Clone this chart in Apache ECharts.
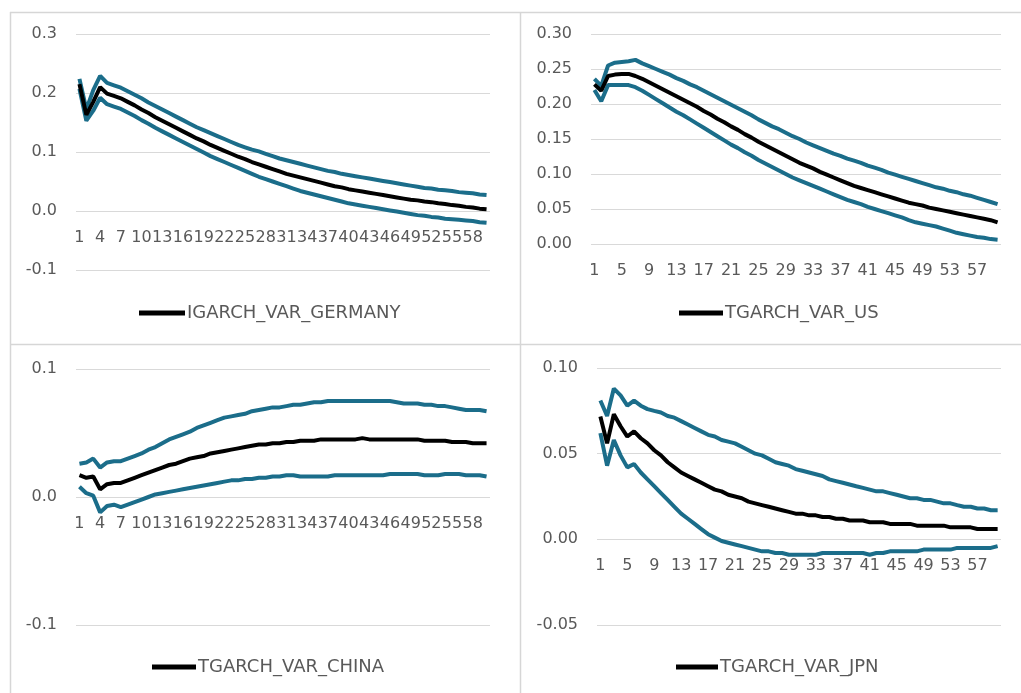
<!DOCTYPE html>
<html>
<head>
<meta charset="utf-8">
<script src="https://cdn.jsdelivr.net/npm/echarts@6/dist/echarts.min.js"></script>
<style>
html,body{margin:0;padding:0;background:#fff;}
#chart{width:1021px;height:693px;}
</style>
</head>
<body>
<div id="chart"></div>
<script>
const periods = ['1','2','3','4','5','6','7','8','9','10','11','12','13','14','15','16','17','18','19','20',
'21','22','23','24','25','26','27','28','29','30','31','32','33','34','35','36','37','38','39','40',
'41','42','43','44','45','46','47','48','49','50','51','52','53','54','55','56','57','58','59','60'];

const seriesNames = ['IGARCH_VAR_GERMANY', 'TGARCH_VAR_US', 'TGARCH_VAR_CHINA', 'TGARCH_VAR_JPN'];

const germanyMid = [0.215,0.163,0.185,0.210,0.199,0.195,0.191,0.185,0.179,0.172,0.166,0.159,0.153,0.147,0.141,0.135,0.129,0.123,0.118,0.112,
0.107,0.102,0.097,0.092,0.088,0.083,0.079,0.075,0.071,0.067,0.063,0.060,0.057,0.054,0.051,0.048,0.045,0.042,0.040,0.037,
0.035,0.033,0.031,0.029,0.027,0.025,0.023,0.021,0.019,0.018,0.016,0.015,0.013,0.012,0.010,0.009,0.007,0.006,0.004,0.003];
const germanyUpper = [0.224,0.172,0.205,0.229,0.217,0.213,0.209,0.203,0.197,0.191,0.184,0.178,0.172,0.166,0.160,0.154,0.148,0.142,0.137,0.132,
0.127,0.122,0.117,0.112,0.108,0.104,0.101,0.097,0.093,0.089,0.086,0.083,0.080,0.077,0.074,0.071,0.068,0.066,0.063,0.061,
0.059,0.057,0.055,0.053,0.051,0.049,0.047,0.045,0.043,0.041,0.039,0.038,0.036,0.035,0.034,0.032,0.031,0.030,0.028,0.027];
const germanyLower = [0.207,0.153,0.170,0.192,0.181,0.177,0.173,0.167,0.161,0.154,0.148,0.141,0.135,0.129,0.123,0.117,0.111,0.105,0.099,0.093,
0.088,0.083,0.078,0.073,0.068,0.063,0.058,0.054,0.050,0.046,0.042,0.038,0.034,0.031,0.028,0.025,0.022,0.019,0.016,0.013,
0.011,0.009,0.007,0.005,0.003,0.001,-0.001,-0.003,-0.005,-0.007,-0.008,-0.010,-0.011,-0.013,-0.014,-0.015,-0.016,-0.017,-0.019,-0.020];

const usMid = [0.228,0.219,0.240,0.242,0.243,0.243,0.240,0.236,0.231,0.226,0.221,0.216,0.211,0.206,0.201,0.196,0.190,0.185,0.179,0.174,
0.168,0.163,0.157,0.152,0.146,0.141,0.136,0.131,0.126,0.121,0.116,0.112,0.108,0.103,0.099,0.095,0.091,0.087,0.083,0.080,
0.077,0.074,0.071,0.068,0.065,0.062,0.059,0.057,0.055,0.052,0.050,0.048,0.046,0.044,0.042,0.040,0.038,0.036,0.034,0.031];
const usUpper = [0.236,0.226,0.255,0.259,0.260,0.261,0.263,0.258,0.254,0.250,0.246,0.242,0.237,0.233,0.228,0.224,0.219,0.214,0.209,0.204,
0.199,0.194,0.189,0.184,0.178,0.173,0.168,0.164,0.159,0.154,0.150,0.145,0.141,0.137,0.133,0.129,0.126,0.122,0.119,0.116,
0.112,0.109,0.106,0.102,0.099,0.096,0.093,0.090,0.087,0.084,0.081,0.079,0.076,0.074,0.071,0.069,0.066,0.063,0.060,0.057];
const usLower = [0.220,0.204,0.227,0.227,0.227,0.227,0.224,0.219,0.213,0.207,0.201,0.195,0.189,0.184,0.178,0.172,0.166,0.160,0.154,0.148,
0.142,0.137,0.131,0.126,0.120,0.115,0.110,0.105,0.100,0.095,0.091,0.087,0.083,0.079,0.075,0.071,0.067,0.063,0.060,0.057,
0.053,0.050,0.047,0.044,0.041,0.038,0.034,0.031,0.029,0.027,0.025,0.022,0.019,0.016,0.014,0.012,0.010,0.009,0.007,0.006];

const chinaMid = [0.017,0.015,0.016,0.006,0.010,0.011,0.011,0.013,0.015,0.017,0.019,0.021,0.023,0.025,0.026,0.028,0.030,0.031,0.032,0.034,
0.035,0.036,0.037,0.038,0.039,0.040,0.041,0.041,0.042,0.042,0.043,0.043,0.044,0.044,0.044,0.045,0.045,0.045,0.045,0.045,
0.045,0.046,0.045,0.045,0.045,0.045,0.045,0.045,0.045,0.045,0.044,0.044,0.044,0.044,0.043,0.043,0.043,0.042,0.042,0.042];
const chinaUpper = [0.026,0.027,0.030,0.023,0.027,0.028,0.028,0.030,0.032,0.034,0.037,0.039,0.042,0.045,0.047,0.049,0.051,0.054,0.056,0.058,
0.060,0.062,0.063,0.064,0.065,0.067,0.068,0.069,0.070,0.070,0.071,0.072,0.072,0.073,0.074,0.074,0.075,0.075,0.075,0.075,
0.075,0.075,0.075,0.075,0.075,0.075,0.074,0.073,0.073,0.073,0.072,0.072,0.071,0.071,0.070,0.069,0.068,0.068,0.068,0.067];
const chinaLower = [0.008,0.003,0.001,-0.012,-0.007,-0.006,-0.008,-0.006,-0.004,-0.002,0.000,0.002,0.003,0.004,0.005,0.006,0.007,0.008,0.009,0.010,
0.011,0.012,0.013,0.013,0.014,0.014,0.015,0.015,0.016,0.016,0.017,0.017,0.016,0.016,0.016,0.016,0.016,0.017,0.017,0.017,
0.017,0.017,0.017,0.017,0.017,0.018,0.018,0.018,0.018,0.018,0.017,0.017,0.017,0.018,0.018,0.018,0.017,0.017,0.017,0.016];

const jpnMid = [0.0717,0.056,0.073,0.066,0.060,0.063,0.059,0.056,0.052,0.049,0.045,0.042,0.039,0.037,0.035,0.033,0.031,0.029,0.028,0.026,
0.025,0.024,0.022,0.021,0.020,0.019,0.018,0.017,0.016,0.015,0.015,0.014,0.014,0.013,0.013,0.012,0.012,0.011,0.011,0.011,
0.010,0.010,0.010,0.009,0.009,0.009,0.009,0.008,0.008,0.008,0.008,0.008,0.007,0.007,0.007,0.007,0.006,0.006,0.006,0.006];
const jpnUpper = [0.081,0.072,0.088,0.084,0.078,0.081,0.078,0.076,0.075,0.074,0.072,0.071,0.069,0.067,0.065,0.063,0.061,0.060,0.058,0.057,
0.056,0.054,0.052,0.050,0.049,0.047,0.045,0.044,0.043,0.041,0.040,0.039,0.038,0.037,0.035,0.034,0.033,0.032,0.031,0.030,
0.029,0.028,0.028,0.027,0.026,0.025,0.024,0.024,0.023,0.023,0.022,0.021,0.021,0.020,0.019,0.019,0.018,0.018,0.017,0.017];
const jpnLower = [0.062,0.043,0.058,0.049,0.042,0.044,0.039,0.035,0.031,0.027,0.023,0.019,0.015,0.012,0.009,0.006,0.003,0.001,-0.001,-0.002,
-0.003,-0.004,-0.005,-0.006,-0.007,-0.007,-0.008,-0.008,-0.009,-0.009,-0.009,-0.009,-0.009,-0.008,-0.008,-0.008,-0.008,-0.008,-0.008,-0.008,
-0.009,-0.008,-0.008,-0.007,-0.007,-0.007,-0.007,-0.007,-0.006,-0.006,-0.006,-0.006,-0.006,-0.005,-0.005,-0.005,-0.005,-0.005,-0.005,-0.004];

const FONT = 'DejaVu Sans';
const TXT = '#595959';
const TEAL = '#1b6d8a';
const GRIDC = '#d9d9d9';

const panels = [
  {name: seriesNames[0], mid: germanyMid, up: germanyUpper, lo: germanyLower, grid:{left:76, top:34, width:414, height:236}, y:{min:-0.1,max:0.3,interval:0.1,dec:1}, xi:2, legend:{left:139, top:304, w:46}},
  {name: seriesNames[1], mid: usMid, up: usUpper, lo: usLower, grid:{left:591, top:34, width:410, height:210}, y:{min:0,max:0.3,interval:0.05,dec:2}, xi:3, legend:{left:679, top:304, w:44}},
  {name: seriesNames[2], mid: chinaMid, up: chinaUpper, lo: chinaLower, grid:{left:76, top:369, width:414, height:256}, y:{min:-0.1,max:0.1,interval:0.1,dec:1}, xi:2, legend:{left:152, top:658, w:44}},
  {name: seriesNames[3], mid: jpnMid, up: jpnUpper, lo: jpnLower, grid:{left:597, top:368, width:404, height:257}, y:{min:-0.05,max:0.1,interval:0.05,dec:2}, xi:3, legend:{left:676, top:658, w:42}}
];

const grids = [], xAxes = [], yAxes = [], series = [], legends = [];
panels.forEach((p, k) => {
  grids.push(Object.assign({containLabel:false}, p.grid));
  // place the category labels at the zero line (as in the original chart)
  const zeroOffset = -p.grid.height * (0 - p.y.min) / (p.y.max - p.y.min);
  xAxes.push({
    type:'category', gridIndex:k, data:periods, boundaryGap:true, position:'bottom', offset:zeroOffset,
    axisLine:{show:false, onZero:false}, axisTick:{show:false},
    axisLabel:{interval:p.xi, margin:19, fontFamily:FONT, fontSize:16, color:TXT},
    splitLine:{show:false}
  });
  yAxes.push({
    type:'value', gridIndex:k, min:p.y.min, max:p.y.max, interval:p.y.interval,
    axisLine:{show:false}, axisTick:{show:false},
    axisLabel:{margin:19, fontFamily:FONT, fontSize:16, color:TXT,
      formatter: v => (Math.abs(v) < 1e-9 ? 0 : v).toFixed(p.y.dec)},
    splitLine:{show:true, lineStyle:{color:GRIDC, width:1}}
  });
  const base = {type:'line', xAxisIndex:k, yAxisIndex:k, symbol:'none', showSymbol:false, smooth:false, silent:true, animation:false};
  series.push(Object.assign({}, base, {name:p.name+'_UPPER', data:p.up, color:TEAL, lineStyle:{color:TEAL, width:4}, z:2}));
  series.push(Object.assign({}, base, {name:p.name+'_LOWER', data:p.lo, color:TEAL, lineStyle:{color:TEAL, width:4}, z:2}));
  series.push(Object.assign({}, base, {name:p.name, data:p.mid, color:'#000', lineStyle:{color:'#000', width:4}, z:3}));
  legends.push({
    data:[p.name], left:p.legend.left, top:p.legend.top, padding:0, selectedMode:false,
    icon:'rect', itemWidth:p.legend.w, itemHeight:5, itemGap:0,
    itemStyle:{color:'#000'},
    textStyle:{fontFamily:FONT, fontSize:18, color:TXT, padding:[0,0,0,-3]}
  });
});

const borderStyle = {stroke:'#d6d6d6', lineWidth:1.5};
const graphic = [
  {type:'line', shape:{x1:10, y1:12.5, x2:1021, y2:12.5}, style:borderStyle, silent:true},
  {type:'line', shape:{x1:10, y1:344.5, x2:1021, y2:344.5}, style:borderStyle, silent:true},
  {type:'line', shape:{x1:10.5, y1:12, x2:10.5, y2:693}, style:borderStyle, silent:true},
  {type:'line', shape:{x1:520.5, y1:12, x2:520.5, y2:693}, style:borderStyle, silent:true}
];

const chart = echarts.init(document.getElementById('chart'), null, {renderer:'canvas'});
chart.setOption({
  backgroundColor:'#ffffff',
  animation:false,
  grid:grids, xAxis:xAxes, yAxis:yAxes, series:series, legend:legends, graphic:graphic
});
</script>
</body>
</html>
